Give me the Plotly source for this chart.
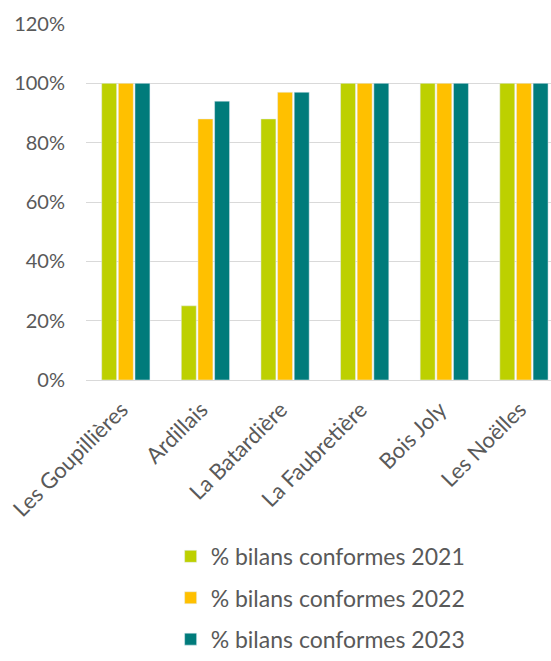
import plotly.graph_objects as go

FONT = "Lato"
GREY = "#595959"

sites = ["Les Goupillières", "Ardillais", "La Batardière", "La Faubretière", "Bois Joly", "Les Noëlles"]
conf_2021 = [1.00, 0.25, 0.88, 1.00, 1.00, 1.00]
conf_2022 = [1.00, 0.88, 0.97, 1.00, 1.00, 1.00]
conf_2023 = [1.00, 0.94, 0.97, 1.00, 1.00, 1.00]
series_names = ["% bilans conformes 2021", "% bilans conformes 2022", "% bilans conformes 2023"]
colors = ["#bdd000", "#ffc000", "#007b7b"]
y_ticks = [0, 0.2, 0.4, 0.6, 0.8, 1.0, 1.2]

fig = go.Figure()
for name, vals, col in zip(series_names, [conf_2021, conf_2022, conf_2023], colors):
    fig.add_trace(go.Bar(x=sites, y=vals, name=name, marker_color=col, legendgroup=name))

fig.update_layout(
    width=551,
    height=661,
    margin=dict(l=86, r=0, t=24, b=281, autoexpand=False),
    paper_bgcolor="white",
    plot_bgcolor="white",
    font=dict(family=FONT, size=21, color=GREY),
    barmode="group",
    bargap=0.373,
    bargroupgap=0.1,
    showlegend=True,
    legend=dict(
        orientation="v",
        x=0.182,
        xanchor="left",
        y=-0.789,
        yanchor="bottom",
        font=dict(family=FONT, size=23, color=GREY),
        tracegroupgap=8.5,
    ),
    xaxis=dict(
        range=[-0.5, 5.34],
        tickangle=-45,
        tickfont=dict(size=22),
        showgrid=False,
        showline=True,
        linecolor="#d9d9d9",
        linewidth=1,
        ticks="",
        ticklabelstandoff=7,
        ticklabelshift=-4,
        automargin=False,
    ),
    yaxis=dict(
        range=[0, 1.2],
        tickvals=y_ticks,
        tickformat=".0%",
        tickfont=dict(size=20),
        showgrid=True,
        gridcolor="#d9d9d9",
        gridwidth=1,
        zeroline=False,
        ticks="",
        ticklabelstandoff=20,
        automargin=False,
    ),
)

# page body has a default 8px margin; remove it so the figure sits at (0, 0)
fig.write_html(
    "out.html",
    config={"displayModeBar": False},
    post_script="document.body.style.margin='0';",
)
